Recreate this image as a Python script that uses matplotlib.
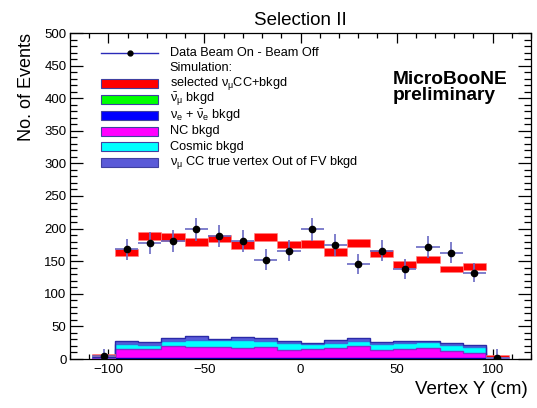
import numpy as np
import matplotlib
matplotlib.use('Agg')
import matplotlib.pyplot as plt
from matplotlib.patches import Rectangle
from matplotlib.lines import Line2D
from matplotlib.ticker import MultipleLocator

plt.rcParams['font.family'] = ['Liberation Sans', 'DejaVu Sans']
plt.rcParams['mathtext.fontset'] = 'custom'
plt.rcParams['mathtext.rm'] = 'Liberation Sans'
plt.rcParams['mathtext.it'] = 'Liberation Sans'
plt.rcParams['mathtext.bf'] = 'Liberation Sans:bold'

# bins: 16 fiducial bins from -96.5 to 96.5 plus one under/overflow bin each side
bin_edges = np.linspace(-108.5625, 108.5625, 19)

# data (beam on - beam off) and its errors
data = [4.6, 168, 178, 181, 199, 189, 181, 152, 166, 199, 175, 145, 166, 138, 172, 163, 132, 2.0]
data_err = [10, 16.4, 16.5, 16.6, 17.4, 17.0, 16.6, 16.0, 16.3, 17.4, 16.8, 15.3, 16.0, 15.3,
            16.5, 16.0, 14.6, 13]

# total MC prediction (selected numu CC + bkgd) and its stat error
mc_total = [6.3, 163.3, 188.4, 187.1, 179.2, 184.6, 175.1, 186.9, 175.6, 176.2, 164.2, 177.9,
            161.6, 144.5, 152.6, 138.3, 142.1, 5.0]
mc_err = [1.3, 5.4, 5.9, 5.7, 5.9, 5.6, 5.9, 5.9, 5.8, 5.9, 5.6, 5.7, 5.6, 5.4, 4.9, 4.8, 5.6, 1.2]

# stacked backgrounds
numubar_bkg = [0.1, 0.3, 0.3, 0.3, 0.3, 0.3, 0.3, 0.3, 0.3, 0.3, 0.3, 0.3, 0.3, 0.3, 0.3, 0.3, 0.3, 0.1]
nue_bkg = [0.5, 1.0, 1.0, 1.5, 2.0, 1.5, 1.0, 2.0, 1.0, 1.0, 1.5, 2.0, 1.0, 1.0, 1.0, 1.0, 1.0, 0.5]
nc_bkg = [1.0, 14.0, 14.5, 17.6, 16.1, 16.6, 15.6, 16.1, 13.0, 14.0, 15.1, 17.1, 13.0, 14.0, 15.6,
          10.5, 8.4, 0.8]
cosmic_bkg = [0.8, 7.7, 6.2, 8.6, 11.2, 10.6, 12.7, 9.6, 9.7, 7.7, 8.1, 8.6, 8.7, 9.7, 9.1, 10.2,
              9.3, 1.0]
oofv_bkg = [0.5, 5.0, 4.0, 4.0, 5.2, 1.7, 3.6, 4.0, 3.0, 2.0, 3.6, 3.7, 2.5, 3.0, 2.0, 2.5, 3.0, 0.5]

stack = [
    (numubar_bkg, '#00ff00', '#00a000'),
    (nue_bkg, '#0000ff', '#0000a0'),
    (nc_bkg, '#ff00ff', '#8a2bc8'),
    (cosmic_bkg, '#00ffff', '#3a6ad8'),
    (oofv_bkg, '#5a5ad8', '#2a2aa8'),
]

centers = 0.5 * (bin_edges[1:] + bin_edges[:-1])
widths = np.diff(bin_edges)

fig = plt.figure(figsize=(5.37, 4.08), dpi=100)
ax = fig.add_axes([70 / 537, 1 - 359 / 408, 461 / 537, 326 / 408])

# stacked backgrounds
base = np.zeros(len(centers))
for vals, fc, ec in stack:
    vals = np.asarray(vals)
    ax.stairs(base + vals, bin_edges, baseline=base, fill=True, color=fc, lw=0, zorder=2)
    ax.stairs(base + vals, bin_edges, baseline=None, color=ec, lw=1.0, zorder=3)
    base = base + vals

# MC error boxes
mc_total = np.asarray(mc_total)
mc_err = np.asarray(mc_err)
ax.bar(centers, 2 * mc_err, bottom=mc_total - mc_err, width=widths, color='#ff0000',
       edgecolor='#ff8080', lw=0.4, zorder=4)

# data points
ax.errorbar(centers, data, yerr=data_err, xerr=widths / 2, fmt='o', color='black', ms=4.5,
            ecolor='#6a6ac4', elinewidth=1.2, capsize=0, zorder=5)

ax.set_xlim(-120, 120)
ax.set_ylim(0, 500)
ax.xaxis.set_major_locator(MultipleLocator(50))
ax.xaxis.set_minor_locator(MultipleLocator(10))
ax.yaxis.set_major_locator(MultipleLocator(50))
ax.yaxis.set_minor_locator(MultipleLocator(10))
ax.tick_params(which='both', direction='in', top=True, right=True, labelsize=9.5, width=0.9)
ax.tick_params(axis='x', which='major', length=7.2, pad=3.5)
ax.tick_params(axis='x', which='minor', length=3.6)
ax.tick_params(axis='y', which='major', length=9.6, pad=2.5)
ax.tick_params(axis='y', which='minor', length=4.8)
for s in ax.spines.values():
    s.set_linewidth(0.9)

ax.set_xlabel('Vertex Y (cm)', fontsize=13.5, loc='right')
ax.xaxis.set_label_coords(0.9935, -0.066)
ax.set_ylabel('No. of Events', fontsize=13, loc='top')
ax.yaxis.set_label_coords(-0.075, 1.0)
ax.set_title('Selection II', fontsize=13.5, pad=6)

# legend drawn by hand (ROOT style)
def px2ax(px, py):
    return (px - 70) / 461, (359 - py) / 326

leg_labels = [
    'Data Beam On - Beam Off',
    'Simulation:',
    r'selected $\nu_{\mu}$CC+bkgd',
    r'$\bar{\nu}_{\mu}$ bkgd',
    r'$\nu_{e}$ + $\bar{\nu}_{e}$ bkgd',
    'NC bkgd',
    'Cosmic bkgd',
    r'$\nu_{\mu}$ CC true vertex Out of FV bkgd',
]
leg_colors = [None, None, '#ff0000', '#00ff00', '#0000ff', '#ff00ff', '#00ffff', '#5a5ad8']
row0, row_step = 52.5, 15.7
for i, (lab, col) in enumerate(zip(leg_labels, leg_colors)):
    py = row0 + i * row_step
    x0, yc = px2ax(101, py)
    x1, _ = px2ax(158, py)
    if i == 0:
        ax.add_line(Line2D([x0, x1], [yc, yc], transform=ax.transAxes, color='#2a2ab8', lw=1.0))
        ax.plot([(x0 + x1) / 2], [yc], 'o', color='black', ms=3.5, transform=ax.transAxes)
    elif col is not None:
        h = 9 / 326
        ax.add_patch(Rectangle((x0, yc - h / 2), x1 - x0, h, transform=ax.transAxes,
                               facecolor=col, edgecolor='#4040a0', lw=0.8))
    tx, _ = px2ax(169.5, py)
    ax.text(tx, yc, lab, transform=ax.transAxes, fontsize=9.2, va='center', ha='left')

mx, my1 = px2ax(392.5, 83.5)
_, my2 = px2ax(392.5, 100.5)
ax.text(mx, my1, 'MicroBooNE', transform=ax.transAxes, fontsize=13.8, fontweight='bold',
        va='baseline', ha='left')
ax.text(mx, my2, 'preliminary', transform=ax.transAxes, fontsize=13.8, fontweight='bold',
        va='baseline', ha='left')

fig.savefig('out.png', dpi=100)
